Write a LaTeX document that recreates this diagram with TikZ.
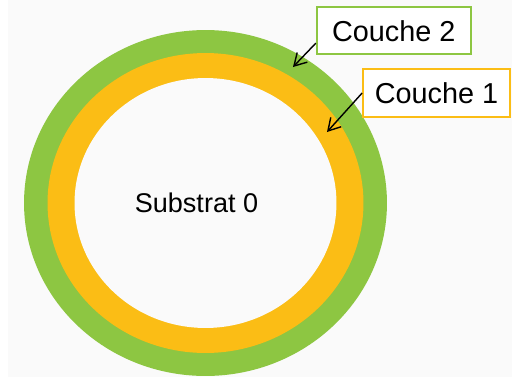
\documentclass[tikz,border=0pt]{standalone}
\usepackage{fontspec}
\setmainfont{Liberation Sans}
\usepackage{xcolor}
\usetikzlibrary{arrows.meta,positioning,shapes.geometric}

\definecolor{ringgreen}{RGB}{141,198,66}
\definecolor{ringorange}{RGB}{251,189,21}
\definecolor{paper}{RGB}{250,250,250}

\begin{document}
\begin{tikzpicture}[
    x=0.02cm, y=-0.02cm,
    ring/.style={ellipse,inner sep=0pt},
    label/.style={draw,line width=1pt,fill=white,inner sep=0pt,font=\fontsize{16.4}{19}\selectfont},
    >={Straight Barb[length=2.4mm,width=2.8mm]}
  ]
    % page and background
    \useasboundingbox (0,0) rectangle (512,380);
    \fill[paper] (8,0) rectangle (512,377);

    % layers
    \node[ring,fill=ringgreen,minimum width=7.26cm,minimum height=6.92cm] (c2) at (205.5,203) {};
    \node[ring,fill=ringorange,minimum width=6.32cm,minimum height=6.0cm] (c1) at (205.5,203) {};
    \node[ring,fill=paper,minimum width=5.24cm,minimum height=5.0cm] (sub) at (205.5,203) {};
    \node[font=\fontsize{15.4}{18}\selectfont] (subtxt) at (196.5,203) {Substrat 0};

    % labels
    \node[label,draw=ringgreen,minimum width=3.08cm,minimum height=0.94cm] (lab2) at (393.7,30.8) {Couche 2};
    \node[label,draw=ringorange,minimum width=2.94cm,minimum height=0.95cm] (lab1) at (436.5,93) {Couche 1};

    \coordinate (t2) at (293,67);
    \coordinate (t1) at (327,132);

    \draw[->,line width=0.8pt] (lab2.189) -- (t2);
    \draw[->,line width=0.8pt] (lab1.west) -- (t1);
  \end{tikzpicture}
\end{document}
